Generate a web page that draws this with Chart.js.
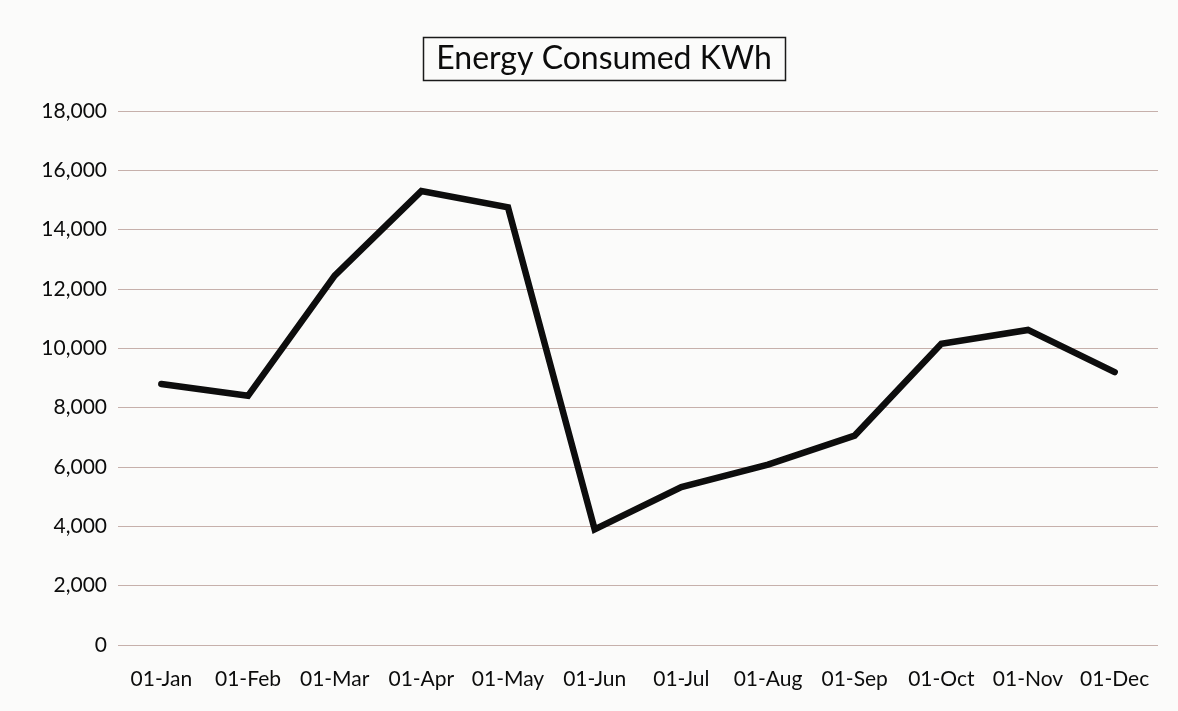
<!DOCTYPE html>
<html>
<head>
<meta charset="utf-8">
<title>Energy Consumed KWh</title>
<script src="https://cdn.jsdelivr.net/npm/chart.js@4/dist/chart.umd.min.js"></script>
<style>
  html, body { margin: 0; padding: 0; background: #fbfbfa; }
  #wrap { position: relative; width: 1178px; height: 711px; }
  canvas { display: block; }
</style>
</head>
<body>
<div id="wrap"><canvas id="c" width="1178" height="711"></canvas></div>
<script>
// Monthly energy use (first day of each month)
const months = ['01-Jan', '01-Feb', '01-Mar', '01-Apr', '01-May', '01-Jun',
                '01-Jul', '01-Aug', '01-Sep', '01-Oct', '01-Nov', '01-Dec'];
const energyKWh = [8800, 8400, 12450, 15300, 14750, 3900,
                   5320, 6080, 7060, 10150, 10620, 9200];
const chartTitle = 'Energy Consumed KWh';
const yTicks = [0, 2000, 4000, 6000, 8000, 10000, 12000, 14000, 16000, 18000];

const FONT = 'Lato, "Open Sans", sans-serif';

// Boxed title drawn above the plot
const boxedTitle = {
  id: 'boxedTitle',
  afterDraw(chart) {
    const ctx = chart.ctx;
    ctx.save();
    ctx.font = '32px ' + FONT;
    ctx.fillStyle = '#0c0c0c';
    ctx.textAlign = 'center';
    ctx.textBaseline = 'middle';
    const cx = 604, cy = 59;
    const w = ctx.measureText(chartTitle).width;
    ctx.fillText(chartTitle, cx, cy);
    ctx.strokeStyle = '#1a1a1a';
    ctx.lineWidth = 1.5;
    ctx.strokeRect(Math.round(cx - w / 2 - 13) + 0.5, 37.5, Math.round(w + 26), 43);
    ctx.restore();
  }
};

new Chart(document.getElementById('c'), {
  type: 'line',
  data: {
    labels: months,
    datasets: [{
      label: chartTitle,
      data: energyKWh,
      borderColor: '#0d0d0d',
      borderWidth: 6.5,
      borderCapStyle: 'round',
      borderJoinStyle: 'miter',
      pointRadius: 0,
      tension: 0,
      fill: false
    }]
  },
  options: {
    responsive: false,
    animation: false,
    layout: { padding: { left: 10, right: 20, top: 111, bottom: 0 } },
    plugins: {
      legend: { display: false },
      title: { display: false },
      tooltip: { enabled: false }
    },
    scales: {
      x: {
        offset: true,
        afterFit(scale) { scale.height = 66; },
        grid: { display: false, drawTicks: false },
        border: { display: false },
        ticks: {
          color: '#0c0c0c',
          font: { family: FONT, size: 21 },
          padding: 22,
          maxRotation: 0,
          autoSkip: false
        }
      },
      y: {
        min: 0,
        max: 18000,
        afterBuildTicks(scale) { scale.ticks = yTicks.map(v => ({ value: v })); },
        afterFit(scale) { scale.width = 108; },
        grid: { color: 'rgba(155,115,105,0.55)', lineWidth: 1, drawTicks: false },
        border: { display: false },
        ticks: {
          color: '#0c0c0c',
          font: { family: FONT, size: 21 },
          padding: 11,
          callback: v => v.toLocaleString('en-US')
        }
      }
    }
  },
  plugins: [boxedTitle]
});
</script>
</body>
</html>
